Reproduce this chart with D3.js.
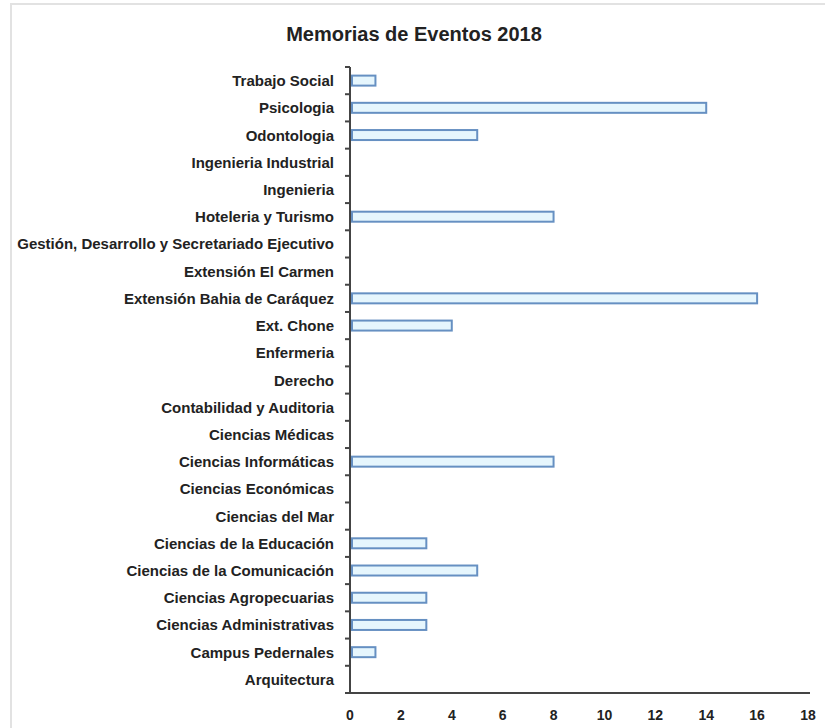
<!DOCTYPE html>
<html><head><meta charset="utf-8">
<script src="https://cdn.jsdelivr.net/npm/d3@7"></script>
<style>body{margin:0;background:#fff}svg{display:block}</style>
</head><body>
<script>
const categories = ["Trabajo Social","Psicologia","Odontologia","Ingenieria Industrial","Ingenieria","Hoteleria y Turismo","Gestión, Desarrollo y Secretariado Ejecutivo","Extensión El Carmen","Extensión Bahia de Caráquez","Ext. Chone","Enfermeria","Derecho","Contabilidad y Auditoria","Ciencias Médicas","Ciencias Informáticas","Ciencias Económicas","Ciencias del Mar","Ciencias de la Educación","Ciencias de la Comunicación","Ciencias Agropecuarias","Ciencias Administrativas","Campus Pedernales","Arquitectura"];
const values = [1,14,5,0,0,8,0,0,16,4,0,0,0,0,8,0,0,3,5,3,3,1,0];
const xTicks = [0,2,4,6,8,10,12,14,16,18];
const title = "Memorias de Eventos 2018";

const W = 825, H = 728;
const font = "'Liberation Sans Narrow','Arial Narrow','Liberation Sans',Arial,sans-serif";
const svg = d3.select("body").append("svg").attr("width", W).attr("height", H);

// frame
svg.append("line").attr("x1",10).attr("x2",W).attr("y1",4).attr("y2",4).attr("stroke","#e2e2e2").attr("stroke-width",2);
svg.append("line").attr("x1",11).attr("x2",11).attr("y1",4).attr("y2",H).attr("stroke","#e2e2e2").attr("stroke-width",2);

const x0 = 350, x1 = 808, yTop = 67, yBot = 693;
const x = d3.scaleLinear().domain([0,18]).range([x0, x1]);
const y = d3.scaleBand().domain(categories).range([yTop, yBot]).padding(0);

svg.append("text").attr("x", 414).attr("y", 41).attr("text-anchor","middle")
  .attr("font-family", font).attr("font-weight","bold").attr("font-size", 20).attr("fill","#222").text(title);

// bars
svg.append("g").selectAll("rect").data(categories).join("rect")
  .attr("x", x(0) + 2)
  .attr("y", d => y(d) + y.bandwidth()/2 - 5)
  .attr("width", (d,i) => Math.max(0, x(values[i]) - x(0) - 2))
  .attr("height", 10)
  .attr("fill", "#e6f6fd")
  .attr("stroke", "#6690c2")
  .attr("stroke-width", 2)
  .attr("display", (d,i) => values[i] > 0 ? null : "none");

// y axis
const gy = svg.append("g");
gy.append("line").attr("x1",x0).attr("x2",x0).attr("y1",yTop).attr("y2",yBot).attr("stroke","#444").attr("stroke-width",2);
const bounds = categories.map(d => y(d));
gy.selectAll("line.tk").data(bounds).join("line").attr("class","tk")
  .attr("x1", x0-5).attr("x2", x0).attr("y1", d => d).attr("y2", d => d)
  .attr("stroke","#444").attr("stroke-width",2);
gy.selectAll("text").data(categories).join("text")
  .attr("x", 334).attr("y", d => y(d) + y.bandwidth()/2 + 5.5)
  .attr("text-anchor","end").attr("font-family", font).attr("font-weight","bold")
  .attr("font-size", 15).attr("fill","#222").text(d => d);

// x axis
const gx = svg.append("g");
gx.append("line").attr("x1",x0-5).attr("x2",x1+2).attr("y1",yBot).attr("y2",yBot).attr("stroke","#444").attr("stroke-width",2);
gx.selectAll("text").data(xTicks).join("text")
  .attr("x", d => x(d)).attr("y", 720).attr("text-anchor","middle")
  .attr("font-family", font).attr("font-weight","bold").attr("font-size", 14).attr("fill","#222").text(d => d);
</script>
</body></html>
